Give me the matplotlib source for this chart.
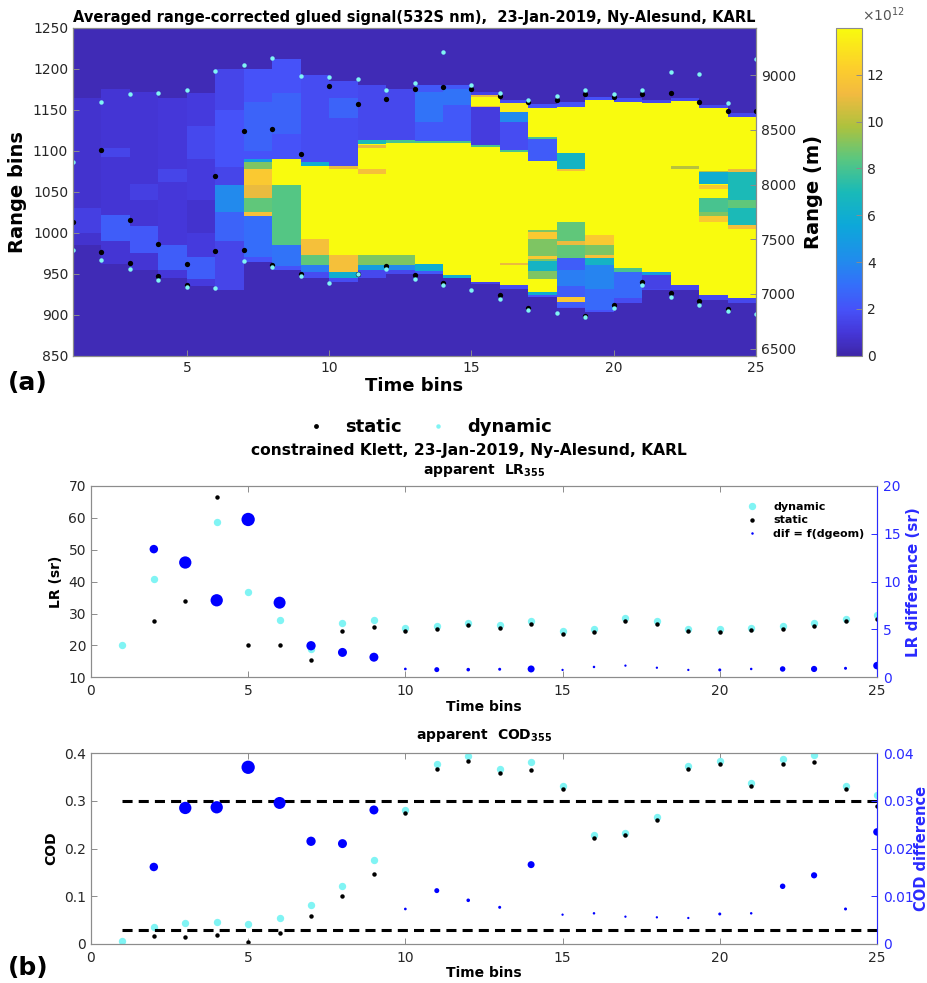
import numpy as np
import matplotlib.pyplot as plt
from matplotlib.colors import LinearSegmentedColormap
from matplotlib.lines import Line2D

plt.rcParams['font.family'] = 'DejaVu Sans'
plt.rcParams['mathtext.fontset'] = 'dejavusans'

nan = np.nan
time_bins = np.arange(1, 26)

# ---- panel (a): cloud boundaries (range bins) ----
dyn_top = [1085.8, 1159.4, 1169.2, 1170.4, 1174.4, 1197.2, 1204.5, 1213.5, 1191.5, 1189.5,
           1187.0, 1174.4, 1182.6, 1220.8, 1179.7, 1170.4, 1162.2, 1166.3, 1174.0, 1169.2,
           1174.0, 1195.6, 1194.0, 1157.8, 1212.2]
dyn_base = [978.5, 966.3, 956.1, 942.7, 933.4, 932.6, 965.5, 958.6, 947.6, 938.3,
            949.2, 956.1, 944.0, 935.8, 930.9, 919.9, 905.3, 902.1, 897.2, 907.8,
            936.6, 922.0, 911.8, 904.5, 901.3]
sta_top = [1013.5, 1101.3, 1015.5, 986.6, 962.2, 1069.2, 1124.0, 1126.9, 1096.0, 1179.3,
           1157.0, 1163.0, 1174.8, 1177.3, 1174.8, 1166.3, 1159.0, 1162.2, 1169.6, 1165.5,
           1168.7, 1170.8, 1159.0, 1148.4, 1148.0]
sta_base = [nan, 976.9, 963.1, 947.6, 937.0, 977.7, 979.3, 960.6, 949.2, nan,
            950.4, 959.8, 948.4, 939.1, nan, 924.4, 907.8, nan, 899.0, 912.2,
            939.5, 926.9, 916.7, 907.0, nan]

# ---- panel (a): signal (x1e12), one column per time bin ----
background = 0.3
haze_lo = [985, 962, 955, 945, 935, 930, 965, 955, 945, 940, 945, 950,
           950, 945, 938, 932, 922, 908, 904, 915, 930, 930, 918, 915]
haze_hi = [1165, 1175, 1172, 1165, 1170, 1200, 1200, 1212, 1192, 1185, 1180, 1175,
           1180, 1180, 1172, 1162, 1157, 1160, 1166, 1164, 1162, 1165, 1156, 1146]
haze_val = [0.8, 0.9, 0.9, 1.0, 1.1, 1.5, 2.0, 2.0, 1.8, 1.8, 1.6, 1.6,
            2.2, 2.2, 1.4, 1.8, 2.0, 2.0, 2.0, 1.8, 1.6, 1.6, 1.6, 1.6]
core_lo = [nan, nan, nan, nan, nan, nan, nan, 1058, 993, 973, 973, 973,
           962, 948, 940, 936, 928, 1013, 997, 957, 952, 936, 924, 920]
core_hi = [nan, nan, nan, nan, nan, nan, nan, 1090, 1082, 1078, 1108, 1110,
           1109, 1109, 1105, 1099, 1152, 1154, 1162, 1160, 1158, 1161, 1152, 1141]
core_val = 14.0
bands = [
    (1, 1000, 1030, 1.3),
    (2, 990, 1022, 2.4), (2, 1092, 1104, 1.5),
    (3, 975, 1008, 2.2), (3, 1040, 1060, 1.3),
    (4, 955, 985, 2.4), (4, 1062, 1078, 1.5),
    (5, 944, 970, 2.4), (5, 1000, 1040, 0.8), (5, 1090, 1130, 1.6),
    (6, 990, 1025, 2.6), (6, 1025, 1058, 4.0), (6, 1080, 1150, 2.0),
    (7, 970, 1020, 3.0), (7, 1020, 1026, 11.5), (7, 1026, 1042, 8.5), (7, 1042, 1058, 11.0),
    (7, 1058, 1078, 12.0), (7, 1078, 1086, 9.0), (7, 1086, 1090, 5.0), (7, 1100, 1160, 2.6),
    (8, 960, 985, 3.2), (8, 985, 1058, 8.3), (8, 1120, 1170, 2.6),
    (9, 952, 961, 3.5), (9, 961, 973, 8.5), (9, 973, 993, 11.5), (9, 1082, 1086, 6.0),
    (10, 945, 952, 6.0), (10, 952, 973, 11.5), (10, 1078, 1082, 11.0), (10, 1140, 1165, 2.6),
    (11, 955, 961, 5.0), (11, 961, 973, 9.0), (11, 1072, 1078, 11.5), (11, 1104, 1107, 11.0),
    (11, 1108, 1113, 7.0),
    (12, 955, 961, 4.0), (12, 961, 973, 9.0), (12, 1110, 1113, 8.0),
    (13, 954, 962, 6.0), (13, 1109, 1112, 8.0), (13, 1135, 1172, 3.2),
    (14, 945, 948, 6.0), (14, 1109, 1112, 8.0), (14, 1156, 1176, 3.2),
    (15, 1107, 1153, 1.2), (15, 1105, 1107, 8.0), (15, 1153, 1168, 14.0),
    (15, 1166, 1168, 11.0), (15, 1153, 1155, 11.0),
    (16, 1101, 1135, 1.8), (16, 1099, 1101, 8.0), (16, 1135, 1147, 4.0),
    (16, 1147, 1158, 13.5), (16, 961, 963, 11.0),
    (17, 1087, 1115, 2.3), (17, 1115, 1117, 8.0), (17, 944, 1003, 9.0), (17, 993, 1001, 12.0),
    (17, 968, 972, 12.0), (17, 953, 966, 6.5), (17, 924, 928, 6.0),
    (18, 1078, 1097, 6.5), (18, 1076, 1078, 11.5), (18, 969, 1013, 8.5), (18, 985, 990, 11.0),
    (18, 910, 969, 2.4), (18, 935, 955, 3.6), (18, 916, 922, 12.0),
    (19, 985, 997, 12.0), (19, 973, 985, 9.0), (19, 969, 973, 11.5), (19, 961, 969, 6.5),
    (19, 932, 961, 3.8), (19, 906, 932, 2.8),
    (20, 952, 957, 8.0), (20, 920, 952, 2.8),
    (21, 948, 952, 5.0), (21, 932, 948, 1.4),
    (22, 1078, 1081, 10.0),
    (23, 1060, 1074, 6.0), (23, 1054, 1058, 12.0), (23, 1026, 1042, 8.0), (23, 1013, 1020, 12.0),
    (23, 1020, 1026, 9.0), (23, 1074, 1076, 10.0),
    (24, 1009, 1074, 7.0), (24, 1074, 1078, 11.0), (24, 1030, 1040, 8.5), (24, 1005, 1009, 11.5),
]
bin_size_m = 7.5
range_offset_m = 58.0

# ---- panel (b): lidar ratio and cloud optical depth ----
lr_dyn = [20.1, 40.8, 46.0, 58.6, 36.6, 27.9, 18.8, 27.0, 27.9, 25.5, 26.1, 27.1, 26.5,
          27.5, 24.6, 25.3, 28.7, 27.8, 25.3, 25.2, 25.6, 26.2, 27.1, 28.3, 29.5]
lr_sta = [nan, 27.6, 33.8, 66.5, 20.1, 20.1, 15.3, 24.4, 25.9, 24.4, 25.2, 26.3, 25.6,
          26.7, 23.7, 24.2, 27.6, 26.7, 24.5, 24.3, 24.7, 25.3, 26.2, 27.5, 28.3]
lr_dif = [nan, 13.4, 12.0, 8.05, 16.5, 7.8, 3.3, 2.6, 2.1, 0.87, 0.8, 0.8, 0.84,
          0.87, 0.77, 1.08, 1.22, 1.0, 0.77, 0.77, 0.87, 0.87, 0.87, 0.94, 1.22]
cod_dyn = [0.0063, 0.035, 0.0434, 0.0469, 0.0413, 0.0538, 0.0811, 0.1224, 0.1762, 0.2811,
           0.3776, 0.3951, 0.3664, 0.3825, 0.3322, 0.2287, 0.2336, 0.2657, 0.3727, 0.3846,
           0.3371, 0.3881, 0.3958, 0.3322, 0.3119]
cod_sta = [nan, 0.0175, 0.0147, 0.0189, 0.0049, 0.0238, 0.0587, 0.1014, 0.1469, 0.2741,
           0.3664, 0.3846, 0.358, 0.365, 0.3259, 0.2224, 0.228, 0.2594, 0.3671, 0.3783,
           0.3308, 0.3769, 0.3818, 0.3252, 0.2895]
cod_dif = [nan, 0.01615, 0.02853, 0.02867, 0.03706, 0.02958, 0.02154, 0.02105, 0.02811,
           0.00734, 0.01119, 0.00916, 0.00769, 0.01664, 0.00615, 0.00643, 0.00573, 0.00559,
           0.00545, 0.00629, 0.00643, 0.0121, 0.0144, 0.00734, 0.0235]
dgeom = [nan, 8.5, 12.3, 12.3, 13.3, 12.0, 9.3, 9.0, 9.0, 2.7, 5.0, 3.6, 3.0,
         7.0, 2.3, 2.5, 2.3, 2.3, 2.3, 3.0, 2.5, 5.5, 6.2, 3.0, 7.5]
cod_limits = [0.3, 0.03]

# parula-like colormap
parula = LinearSegmentedColormap.from_list('parula', [
    (0.00, (0.242, 0.150, 0.660)), (0.07, (0.270, 0.215, 0.850)),
    (0.14, (0.275, 0.320, 0.975)), (0.22, (0.200, 0.440, 0.980)),
    (0.30, (0.120, 0.560, 0.920)), (0.40, (0.050, 0.660, 0.850)),
    (0.50, (0.100, 0.730, 0.720)), (0.60, (0.350, 0.780, 0.500)),
    (0.70, (0.680, 0.760, 0.240)), (0.80, (0.950, 0.730, 0.250)),
    (0.88, (0.990, 0.810, 0.170)), (1.00, (0.976, 0.983, 0.054))])

cyan = '#80f4f4'
dblue = '#0000ff'
rblue = '#2a2aff'
grey = '#8c8c8c'
txt = '#262626'

# build signal image
edges_y = np.arange(850, 1251)
sig = np.full((len(edges_y) - 1, 24), background)
for c in range(24):
    sig[haze_lo[c] - 850:haze_hi[c] - 850, c] = haze_val[c]
    if not np.isnan(core_lo[c]):
        sig[int(core_lo[c]) - 850:int(core_hi[c]) - 850, c] = core_val
for c, lo, hi, v in bands:
    sig[lo - 850:hi - 850, c - 1] = v


def style(ax):
    for s in ax.spines.values():
        s.set_color(grey)
        s.set_linewidth(0.8)
    ax.tick_params(direction='in', length=4, width=0.7, colors=grey,
                   labelcolor=txt, labelsize=10)


fig = plt.figure(figsize=(9.28, 9.83), dpi=100)

# ---------------- panel (a) ----------------
ax = fig.add_axes([0.0787, 0.638, 0.736, 0.3337])
mesh = ax.pcolormesh(np.arange(1, 26), edges_y, sig, cmap=parula, vmin=0, vmax=14,
                     shading='flat')
ax.plot(time_bins, sta_top, 'o', color='k', ms=3.8, mec='none', label='static')
ax.plot(time_bins, sta_base, 'o', color='k', ms=3.8, mec='none')
ax.plot(time_bins, dyn_top, 'o', color=cyan, ms=3.2, mec='none', label='dynamic')
ax.plot(time_bins, dyn_base, 'o', color=cyan, ms=3.2, mec='none')
ax.set_xlim(1, 25)
ax.set_ylim(850, 1250)
ax.set_xticks([5, 10, 15, 20, 25])
ax.set_yticks(np.arange(850, 1251, 50))
style(ax)
ax.tick_params(right=False)
ax.set_xlabel('Time bins', fontsize=13, fontweight='bold', labelpad=2)
ax.set_ylabel('Range bins', fontsize=14, fontweight='bold', labelpad=4)
ax.set_title('Averaged range-corrected glued signal(532S nm),  23-Jan-2019, Ny-Alesund, KARL',
             fontsize=10.5, fontweight='bold', pad=4)

axr = ax.twinx()
axr.set_ylim(850 * bin_size_m + range_offset_m, 1250 * bin_size_m + range_offset_m)
axr.set_yticks(np.arange(6500, 9001, 500))
style(axr)
axr.set_ylabel('Range (m)', fontsize=14, fontweight='bold', labelpad=6)

cax = fig.add_axes([0.9009, 0.638, 0.028, 0.3337])
cb = fig.colorbar(mesh, cax=cax)
cb.set_ticks(np.arange(0, 13, 2))
cb.outline.set_edgecolor(grey)
cax.tick_params(direction='in', length=4, width=0.7, colors=grey, labelcolor=txt, labelsize=10)
fig.text(0.929, 0.985, r'$\times10^{12}$', fontsize=10, color='#555555', ha='left', va='center')

fig.text(0.008, 1 - 383 / 983, '(a)', fontsize=18, fontweight='bold', va='center')

leg_handles = [Line2D([], [], marker='o', ls='', color='k', ms=3.5, mec='none'),
               Line2D([], [], marker='o', ls='', color=cyan, ms=3.2, mec='none')]
fig.legend(leg_handles, ['static', 'dynamic'], loc='center', ncol=2, frameon=False,
           bbox_to_anchor=(425 / 928, 1 - 427 / 983),
           prop={'size': 13, 'weight': 'bold'}, handletextpad=0.6, columnspacing=1.0)
fig.text(469 / 928, 1 - 451 / 983, 'constrained Klett, 23-Jan-2019, Ny-Alesund, KARL',
         fontsize=11.2, fontweight='bold', ha='center', va='center')
fig.text(484 / 928, 1 - 470 / 983, r'apparent  LR$_{\mathbf{355}}$',
         fontsize=10, fontweight='bold', ha='center', va='center')

# ---------------- panel (b): LR ----------------
axl = fig.add_axes([0.098, 0.311, 0.847, 0.1946])
axl.plot(time_bins, lr_dyn, 'o', color=cyan, ms=5.3, mec='none')
axl.plot(time_bins, lr_sta, 'o', color='k', ms=3.2, mec='none')
axl.set_xlim(0, 25)
axl.set_ylim(10, 70)
axl.set_xticks(np.arange(0, 26, 5))
axl.set_yticks(np.arange(10, 71, 10))
style(axl)
axl.tick_params(top=True, right=False)
axl.tick_params(axis='x', pad=5)
axl.set_xlabel('Time bins', fontsize=10, fontweight='bold', labelpad=1)
axl.set_ylabel('LR (sr)', fontsize=10, fontweight='bold', labelpad=4)

axl2 = axl.twinx()
sizes = (np.array(dgeom) * 0.72) ** 2
axl2.scatter(time_bins, lr_dif, s=sizes, color=dblue, edgecolors='none')
axl2.set_ylim(0, 20)
axl2.set_yticks(np.arange(0, 21, 5))
style(axl2)
axl2.spines['right'].set_color(rblue)
axl2.tick_params(axis='y', colors=rblue, labelcolor=rblue, pad=4.5)
axl2.set_ylabel('LR difference (sr)', fontsize=11, fontweight='bold', color=rblue, labelpad=4)

lr_handles = [Line2D([], [], marker='o', ls='', color=cyan, ms=5.3, mec='none'),
              Line2D([], [], marker='o', ls='', color='k', ms=3.2, mec='none'),
              Line2D([], [], marker='o', ls='', color=dblue, ms=1.8, mec='none')]
axl2.legend(lr_handles, ['dynamic', 'static', 'dif = f(dgeom)'], loc='upper right',
            bbox_to_anchor=(0.991, 0.945), frameon=False, prop={'size': 8, 'weight': 'bold'},
            handletextpad=0.9, labelspacing=0.3, borderpad=0)

# ---------------- panel (b): COD ----------------
fig.text(484 / 928, 1 - 736 / 983, r'apparent  COD$_{\mathbf{355}}$',
         fontsize=10, fontweight='bold', ha='center', va='center')
axc = fig.add_axes([0.098, 0.0397, 0.847, 0.194])
axc.plot(time_bins, cod_dyn, 'o', color=cyan, ms=5.3, mec='none')
axc.plot(time_bins, cod_sta, 'o', color='k', ms=3.2, mec='none')
for lim in cod_limits:
    axc.plot([1, 25], [lim, lim], '--', color='k', lw=2.2, dashes=(3.3, 2))
axc.set_xlim(0, 25)
axc.set_ylim(0, 0.4)
axc.set_xticks(np.arange(0, 26, 5))
axc.set_yticks([0, 0.1, 0.2, 0.3, 0.4])
axc.set_yticklabels(['0', '0.1', '0.2', '0.3', '0.4'])
style(axc)
axc.tick_params(top=True, right=False)
axc.tick_params(axis='x', pad=5)
axc.set_xlabel('Time bins', fontsize=10, fontweight='bold', labelpad=1)
axc.set_ylabel('COD', fontsize=10, fontweight='bold', labelpad=4)

axc2 = axc.twinx()
axc2.scatter(time_bins, cod_dif, s=sizes, color=dblue, edgecolors='none')
axc2.set_ylim(0, 0.04)
axc2.set_yticks([0, 0.01, 0.02, 0.03, 0.04])
axc2.set_yticklabels(['0', '0.01', '0.02', '0.03', '0.04'])
style(axc2)
axc2.spines['right'].set_color(rblue)
axc2.tick_params(axis='y', colors=rblue, labelcolor=rblue, pad=4.5)
axc2.set_ylabel('COD difference', fontsize=10.5, fontweight='bold', color=rblue, labelpad=0)

fig.text(0.008, 1 - 968 / 983, '(b)', fontsize=18, fontweight='bold', va='center')

fig.savefig('out.png', dpi=100)
